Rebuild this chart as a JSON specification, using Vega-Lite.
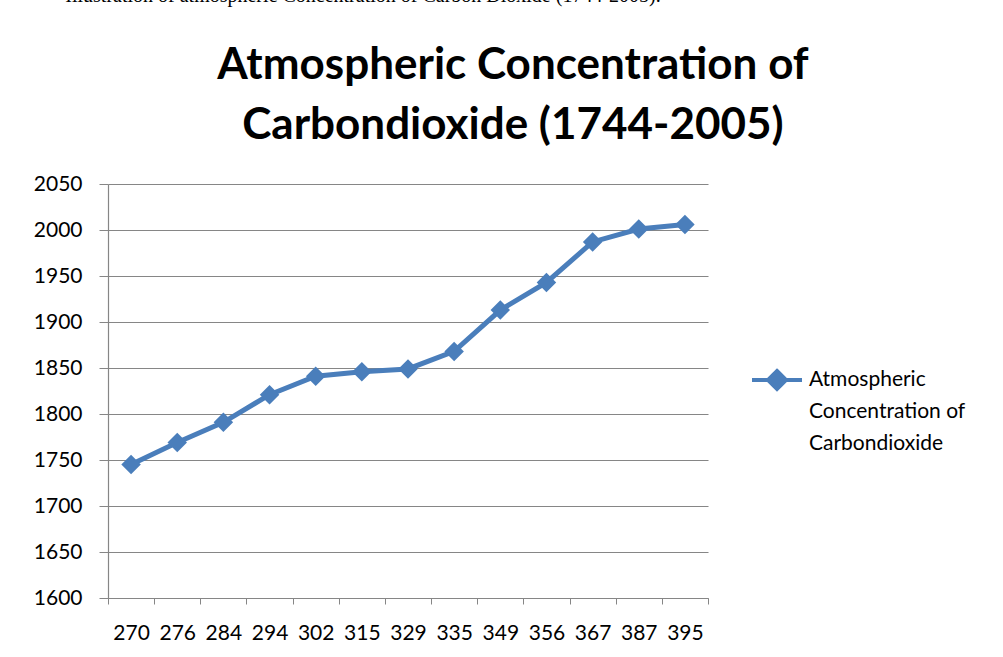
{
  "$schema": "https://vega.github.io/schema/vega-lite/v6.json",
  "background": "white",
  "padding": {"left": 33, "top": -14, "right": 5, "bottom": 5},
  "title": {
    "text": "Illustration of atmospheric Concentration of Carbon Dioxide (1744-2005).",
    "anchor": "start",
    "frame": "bounds",
    "font": "Liberation Serif",
    "fontSize": 20,
    "fontWeight": "normal",
    "color": "black",
    "dx": 32,
    "offset": 38
  },
  "config": {
    "view": {"stroke": null},
    "font": "Lato"
  },
  "vconcat": [
    {
      "width": 600,
      "height": 414,
      "title": {
        "text": ["Atmospheric Concentration of", "Carbondioxide (1744-2005)"],
        "anchor": "middle",
        "frame": "bounds",
        "font": "Lato",
        "fontSize": 44,
        "fontWeight": "bold",
        "color": "black",
        "lineHeight": 60,
        "dx": 142,
        "offset": 25
      },
      "data": {
        "values": [
          {"ppm": "270", "year": 1745, "series": "Atmospheric Concentration of Carbondioxide"},
          {"ppm": "276", "year": 1769, "series": "Atmospheric Concentration of Carbondioxide"},
          {"ppm": "284", "year": 1791, "series": "Atmospheric Concentration of Carbondioxide"},
          {"ppm": "294", "year": 1821, "series": "Atmospheric Concentration of Carbondioxide"},
          {"ppm": "302", "year": 1841, "series": "Atmospheric Concentration of Carbondioxide"},
          {"ppm": "315", "year": 1846, "series": "Atmospheric Concentration of Carbondioxide"},
          {"ppm": "329", "year": 1849, "series": "Atmospheric Concentration of Carbondioxide"},
          {"ppm": "335", "year": 1868, "series": "Atmospheric Concentration of Carbondioxide"},
          {"ppm": "349", "year": 1913, "series": "Atmospheric Concentration of Carbondioxide"},
          {"ppm": "356", "year": 1943, "series": "Atmospheric Concentration of Carbondioxide"},
          {"ppm": "367", "year": 1987, "series": "Atmospheric Concentration of Carbondioxide"},
          {"ppm": "387", "year": 2001, "series": "Atmospheric Concentration of Carbondioxide"},
          {"ppm": "395", "year": 2006, "series": "Atmospheric Concentration of Carbondioxide"}
        ]
      },
      "encoding": {
        "x": {
          "field": "ppm",
          "type": "nominal",
          "sort": null,
          "bandPosition": 0.5,
          "scale": {"type": "band", "paddingInner": 0, "paddingOuter": 0},
          "axis": {
            "title": null,
            "labelAngle": 0,
            "labelFont": "Lato",
            "labelFontSize": 21,
            "labelColor": "black",
            "labelPadding": 18,
            "tickBand": "extent",
            "tickSize": 6,
            "tickColor": "#868686",
            "domainColor": "#868686",
            "domainWidth": 1.2,
            "grid": false
          }
        },
        "y": {
          "field": "year",
          "type": "quantitative",
          "scale": {"domain": [1600, 2050], "nice": false, "zero": false},
          "axis": {
            "title": null,
            "format": "d",
            "values": [1600, 1650, 1700, 1750, 1800, 1850, 1900, 1950, 2000, 2050],
            "labelFont": "Lato",
            "labelFontSize": 21,
            "labelColor": "black",
            "labelPadding": 17,
            "tickSize": 9,
            "tickColor": "#868686",
            "domainColor": "#868686",
            "domainWidth": 1.2,
            "grid": true,
            "gridColor": "#868686",
            "gridWidth": 1.2
          }
        }
      },
      "layer": [
        {
          "mark": {"type": "line", "strokeWidth": 5},
          "encoding": {
            "color": {
              "field": "series",
              "type": "nominal",
              "scale": {"range": ["#4a7ebb"]},
              "legend": {
                "title": null,
                "orient": "none",
                "legendX": 642,
                "legendY": 169,
                "symbolType": "M-1,0H1M0,-0.36L0.36,0L0,0.36L-0.36,0Z",
                "symbolSize": 2500,
                "symbolStrokeWidth": 4,
                "symbolFillColor": "#4a7ebb",
                "labelFont": "Lato",
                "labelFontSize": 21,
                "labelColor": "black",
                "labelLimit": 0,
                "labelOffset": 5,
                "labelExpr": "['Atmospheric', 'Concentration of', 'Carbondioxide']",
                "encode": {
                  "labels": {"update": {"lineHeight": {"value": 32}}},
                  "symbols": {"update": {"fill": {"value": "#4a7ebb"}}}
                }
              }
            }
          }
        },
        {
          "mark": {"type": "point", "shape": "diamond", "filled": true, "size": 380, "opacity": 1, "color": "#4a7ebb"}
        }
      ]
    }
  ]
}
